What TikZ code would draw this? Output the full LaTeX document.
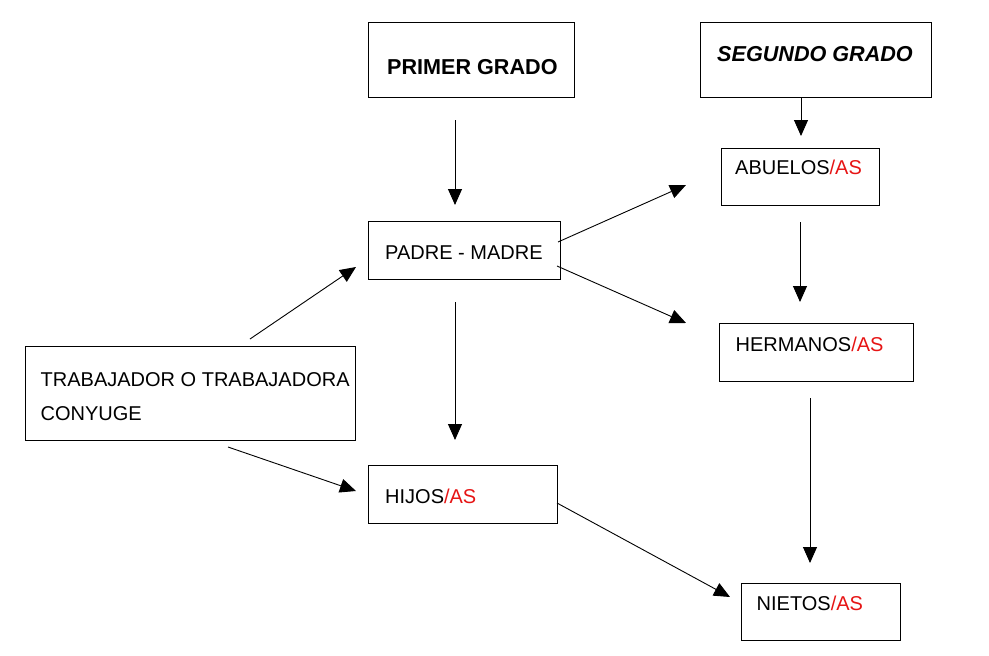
\documentclass[tikz,border=0pt]{standalone}
\usepackage{fontspec}
\setmainfont{Liberation Sans}
\usetikzlibrary{arrows.meta}
\definecolor{asred}{RGB}{230,20,20}
\begin{document}
\begin{tikzpicture}[x=1pt,y=-1pt,
  box/.style={draw=black,line width=1pt,inner sep=0pt},
  txt/.style={anchor=base west,inner sep=0pt,font=\fontsize{20}{22}\selectfont},
  btxt/.style={anchor=base west,inner sep=0pt,font=\fontsize{21.6}{24}\selectfont\bfseries},
  arr/.style={line width=0.9pt,-{Triangle[length=16pt,width=14pt]}}]
\useasboundingbox (0,0) rectangle (989,656);
% boxes
\node[box,minimum width=206pt,minimum height=75pt] (primer) at (471,59.5) {};
\node[box,minimum width=231pt,minimum height=75pt] (segundo) at (815.5,59.5) {};
\node[box,minimum width=158pt,minimum height=57pt] (abuelos) at (800,176.5) {};
\node[box,minimum width=192pt,minimum height=58pt] (padre) at (464,250) {};
\node[box,minimum width=194pt,minimum height=58pt] (hermanos) at (816,352) {};
\node[box,minimum width=330pt,minimum height=94pt] (trab) at (190,393) {};
\node[box,minimum width=189pt,minimum height=58pt] (hijos) at (462.5,494) {};
\node[box,minimum width=159pt,minimum height=57pt] (nietos) at (820.5,611.5) {};
% texts
\node[btxt] (tprimer) at (387,74) {PRIMER GRADO};
\node[btxt] (tsegundo) at (717,61) {\itshape SEGUNDO GRADO};
\node[txt] (tabuelos) at (735,174) {ABUELOS\textcolor{asred}{/AS}};
\node[txt] (tpadre) at (385,259) {PADRE - MADRE};
\node[txt] (ttrab1) at (40.5,386) {TRABAJADOR O TRABAJADORA};
\node[txt] (ttrab2) at (40.5,420) {CONYUGE};
\node[txt] (thijos) at (385,503) {HIJOS\textcolor{asred}{/AS}};
\node[txt] (thermanos) at (735.5,351) {HERMANOS\textcolor{asred}{/AS}};
\node[txt] (tnietos) at (756.5,610) {NIETOS\textcolor{asred}{/AS}};
% arrow end points
\coordinate (a1s) at (455,120); \coordinate (a1e) at (455,205);
\coordinate (a2s) at (801,97);  \coordinate (a2e) at (801,136);
\coordinate (a3s) at (558,242); \coordinate (a3e) at (686,185);
\coordinate (a4s) at (557,266); \coordinate (a4e) at (686,323);
\coordinate (a5s) at (800,222); \coordinate (a5e) at (800,302);
\coordinate (a6s) at (250,339); \coordinate (a6e) at (356,267);
\coordinate (a7s) at (455,302); \coordinate (a7e) at (455,440);
\coordinate (a8s) at (228,447); \coordinate (a8e) at (356,491);
\coordinate (a9s) at (810,398); \coordinate (a9e) at (810,563);
\coordinate (a10s) at (557,503); \coordinate (a10e) at (730,597);
% arrows
\draw[arr] (a1s) -- (a1e);
\draw[arr] (a2s) -- (a2e);
\draw[arr] (a3s) -- (a3e);
\draw[arr] (a4s) -- (a4e);
\draw[arr] (a5s) -- (a5e);
\draw[arr] (a6s) -- (a6e);
\draw[arr] (a7s) -- (a7e);
\draw[arr] (a8s) -- (a8e);
\draw[arr] (a9s) -- (a9e);
\draw[arr] (a10s) -- (a10e);
\end{tikzpicture}
\end{document}
